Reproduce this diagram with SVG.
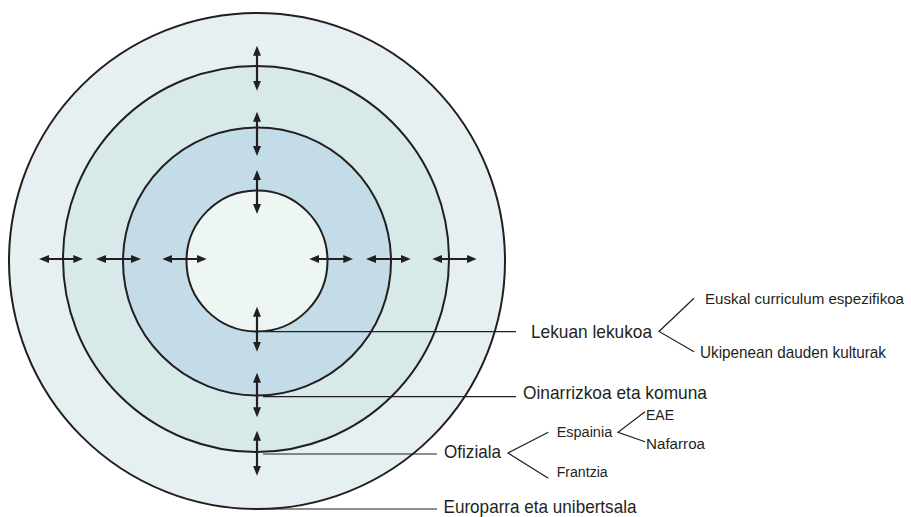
<svg xmlns="http://www.w3.org/2000/svg" width="911" height="517" viewBox="0 0 911 517">
<style>
.ring{stroke:#231f20;stroke-width:2}
.arr{stroke:#231f20;stroke-width:2.2;fill:none;marker-start:url(#ah);marker-end:url(#ah)}
.lead{stroke:#231f20;stroke-width:1.2;fill:none}
text{font-family:"Liberation Sans",Arial,sans-serif;fill:#231f20}
.big{font-size:19px}
.mid{font-size:17px}
.sm{font-size:15.5px}
</style>
<defs>
<marker id="ah" viewBox="0 0 10 8" refX="6" refY="4" markerWidth="10" markerHeight="8" markerUnits="userSpaceOnUse" orient="auto-start-reverse">
<path d="M0,0 L10,4 L0,8 z" fill="#231f20"/>
</marker>
</defs>
<rect width="911" height="517" fill="#ffffff"/>
<g id="ring-europarra"><circle class="ring" cx="257" cy="261" r="248" fill="#e6f0f2"/></g>
<g id="ring-ofiziala"><circle class="ring" cx="256" cy="259" r="193" fill="#d8e9ea"/></g>
<g id="ring-oinarrizkoa"><circle class="ring" cx="257" cy="261.5" r="134" fill="#c4dce7"/></g>
<g id="ring-lekuan"><circle class="ring" cx="257" cy="261" r="70.5" fill="#edf6f3"/></g>
<g id="connectors">
<line class="arr" x1="43" y1="259" x2="79.3" y2="259"/>
<line class="arr" x1="100" y1="259" x2="137" y2="259"/>
<line class="arr" x1="166.3" y1="259" x2="202.7" y2="259"/>
<line class="arr" x1="313.3" y1="259" x2="349.3" y2="259"/>
<line class="arr" x1="370" y1="259" x2="406.7" y2="259"/>
<line class="arr" x1="436.3" y1="259" x2="472.7" y2="259"/>
<line class="arr" x1="257" y1="49.7" x2="257" y2="86.7"/>
<line class="arr" x1="257" y1="115.7" x2="257" y2="152"/>
<line class="arr" x1="257" y1="174" x2="257" y2="210"/>
<line class="arr" x1="257" y1="310.7" x2="257" y2="347.7"/>
<line class="arr" x1="257" y1="376.7" x2="257" y2="413.3"/>
<line class="arr" x1="257" y1="434.7" x2="257" y2="471.7"/>
<line class="lead" x1="263" y1="331.7" x2="516" y2="331.7"/>
<line class="lead" x1="263" y1="396.7" x2="516" y2="396.7"/>
<line class="lead" x1="263" y1="454" x2="437" y2="454"/>
<line class="lead" x1="258" y1="509" x2="437" y2="509"/>
<polyline class="lead" points="694,298.3 659,331.5 694,351.7"/>
<polyline class="lead" points="548.3,432.3 508,453 548.3,478.3"/>
<polyline class="lead" points="645,411.7 618,432.3 645,441.7"/>
</g>
<g id="label-lekuan"><text class="big" x="531" y="337.5" textLength="121" lengthAdjust="spacingAndGlyphs">Lekuan lekukoa</text></g>
<g id="label-euskal"><text x="705" y="304.3" font-size="15.2" textLength="199" lengthAdjust="spacingAndGlyphs">Euskal curriculum espezifikoa</text></g>
<g id="label-ukipenean"><text class="mid" x="700" y="358.3" textLength="186" lengthAdjust="spacingAndGlyphs">Ukipenean dauden kulturak</text></g>
<g id="label-oinarrizkoa"><text class="big" x="523" y="399" textLength="184" lengthAdjust="spacingAndGlyphs">Oinarrizkoa eta komuna</text></g>
<g id="label-ofiziala"><text class="big" x="444" y="458.3" textLength="57" lengthAdjust="spacingAndGlyphs">Ofiziala</text></g>
<g id="label-espainia"><text class="sm" x="556.7" y="436.7" textLength="55.5" lengthAdjust="spacingAndGlyphs">Espainia</text></g>
<g id="label-frantzia"><text class="sm" x="556.7" y="476.5" textLength="51" lengthAdjust="spacingAndGlyphs">Frantzia</text></g>
<g id="label-eae"><text class="sm" x="646" y="420" textLength="28" lengthAdjust="spacingAndGlyphs">EAE</text></g>
<g id="label-nafarroa"><text class="sm" x="646" y="449" textLength="59" lengthAdjust="spacingAndGlyphs">Nafarroa</text></g>
<g id="label-europarra"><text class="big" x="443.5" y="513" textLength="193" lengthAdjust="spacingAndGlyphs">Europarra eta unibertsala</text></g>
</svg>
